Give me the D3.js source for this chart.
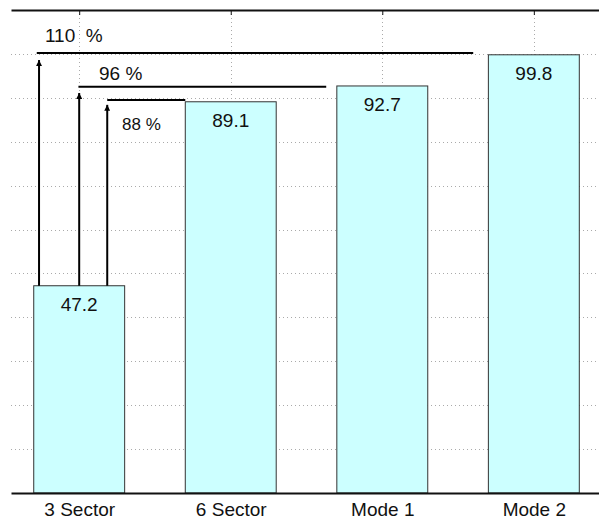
<!DOCTYPE html>
<html>
<head>
    <meta charset="utf-8">
    <script src="https://d3js.org/d3.v7.min.js"></script>
    <style>
        body { margin: 0; background: #fff; }
        svg text { font-family: "Liberation Sans", Arial, sans-serif; fill: #111; }
    </style>
</head>
<body>
    <svg id="chart" width="599" height="520"></svg>

    <script>
        // data
        const categories = ["3 Sector", "6 Sector", "Mode 1", "Mode 2"];
        const values = [47.2, 89.1, 92.7, 99.8];
        const yTicks = [10, 20, 30, 40, 50, 60, 70, 80, 90, 100];

        // gain annotations (data units: x = category index, y = value)
        const gainLabels = ["110  %", "96 %", "88 %"];
        const arrowX = [0.735, 1.0, 1.185];
        const arrowTipY = [98.6, 91.1, 88.4];
        const lineY = [100.2, 92.5, 89.5];
        const lineStartX = [0.72, 0.995, 1.185];
        const lineEndX = [3.6, 2.63, 1.7];
        const labelX = [0.774, 1.131, 1.283];
        const labelY = [102.7, 94.1, 82.7];

        const svg = d3.select("#chart"),
            width = +svg.attr("width"),
            height = +svg.attr("height");

        const plotLeft = 11, plotTop = 10, plotBottom = 493;

        // x in category units (1..4), y in value units
        const x = d3.scaleLinear().domain([0.55, 4.43]).range([plotLeft, width]);
        const y = d3.scaleLinear().domain([0, 110]).range([plotBottom, plotTop]);
        const barW = x(1.6) - x(1); // 0.6 of a category

        // dotted grid
        const grid = svg.append("g")
            .attr("stroke", "#aaa")
            .attr("stroke-width", 1)
            .attr("stroke-dasharray", "1,3");

        grid.selectAll("line.h")
            .data(yTicks)
            .join("line")
            .attr("class", "h")
            .attr("x1", plotLeft).attr("x2", width)
            .attr("y1", d => Math.round(y(d)) + 0.5)
            .attr("y2", d => Math.round(y(d)) + 0.5);

        grid.selectAll("line.v")
            .data(categories)
            .join("line")
            .attr("class", "v")
            .attr("x1", (d, i) => Math.round(x(i + 1)) + 0.5)
            .attr("x2", (d, i) => Math.round(x(i + 1)) + 0.5)
            .attr("y1", plotTop).attr("y2", plotBottom);

        // top axis with ticks pointing down
        const topAxis = d3.axisTop(x)
            .tickValues([1, 2, 3, 4])
            .tickSizeInner(-5)
            .tickSizeOuter(0)
            .tickFormat("");
        svg.append("g")
            .attr("transform", `translate(0,${plotTop})`)
            .call(topAxis)
            .call(g => g.select(".domain").attr("stroke", "#111").attr("stroke-width", 2))
            .call(g => g.selectAll(".tick line").attr("stroke", "#111").attr("stroke-width", 1));

        // bars
        svg.append("g")
            .selectAll("rect")
            .data(values)
            .join("rect")
            .attr("x", (d, i) => x(i + 1) - barW / 2)
            .attr("y", d => y(d))
            .attr("width", barW)
            .attr("height", d => y(0) - y(d))
            .attr("fill", "#ccffff")
            .attr("stroke", "#333")
            .attr("stroke-width", 1);

        // bottom axis with category names
        const bottomAxis = d3.axisBottom(x)
            .tickValues([1, 2, 3, 4])
            .tickSize(0)
            .tickPadding(6)
            .tickFormat((d, i) => categories[i]);
        svg.append("g")
            .attr("transform", `translate(0,${plotBottom})`)
            .call(bottomAxis)
            .call(g => g.select(".domain").attr("stroke", "#111").attr("stroke-width", 2))
            .call(g => g.selectAll("text")
                .attr("dy", null)
                .attr("y", 23)
                .attr("font-size", "19px")
                .attr("font-family", "Liberation Sans, Arial, sans-serif")
                .attr("fill", "#111"));

        // value labels inside bars
        svg.append("g")
            .selectAll("text")
            .data(values)
            .join("text")
            .attr("x", (d, i) => x(i + 1))
            .attr("y", d => y(d - 5.8))
            .attr("text-anchor", "middle")
            .attr("font-size", "19px")
            .text(d => d.toFixed(1));

        // arrowhead marker
        svg.append("defs").append("marker")
            .attr("id", "head")
            .attr("viewBox", "0 0 10 10")
            .attr("refX", 10).attr("refY", 5)
            .attr("markerUnits", "userSpaceOnUse")
            .attr("markerWidth", 8).attr("markerHeight", 6)
            .attr("orient", "auto")
            .append("path")
            .attr("d", "M0,0 L10,5 L0,10 Z")
            .attr("fill", "#000");

        const anno = svg.append("g");

        // vertical arrows from the 3 Sector bar top
        anno.selectAll("line.arrow")
            .data(gainLabels)
            .join("line")
            .attr("class", "arrow")
            .attr("x1", (d, i) => x(arrowX[i]))
            .attr("x2", (d, i) => x(arrowX[i]))
            .attr("y1", y(values[0]))
            .attr("y2", (d, i) => y(arrowTipY[i]))
            .attr("stroke", "#000")
            .attr("stroke-width", 2)
            .attr("marker-end", "url(#head)");

        // horizontal reference lines
        anno.selectAll("line.level")
            .data(gainLabels)
            .join("line")
            .attr("class", "level")
            .attr("x1", (d, i) => x(lineStartX[i]))
            .attr("x2", (d, i) => x(lineEndX[i]))
            .attr("y1", (d, i) => y(lineY[i]))
            .attr("y2", (d, i) => y(lineY[i]))
            .attr("stroke", "#000")
            .attr("stroke-width", 2);

        // gain labels
        anno.selectAll("text")
            .data(gainLabels)
            .join("text")
            .attr("x", (d, i) => x(labelX[i]))
            .attr("y", (d, i) => y(labelY[i]))
            .attr("font-size", (d, i) => i === 2 ? "17px" : "19px")
            .style("white-space", "pre")
            .text(d => d);
    </script>
</body>
</html>
